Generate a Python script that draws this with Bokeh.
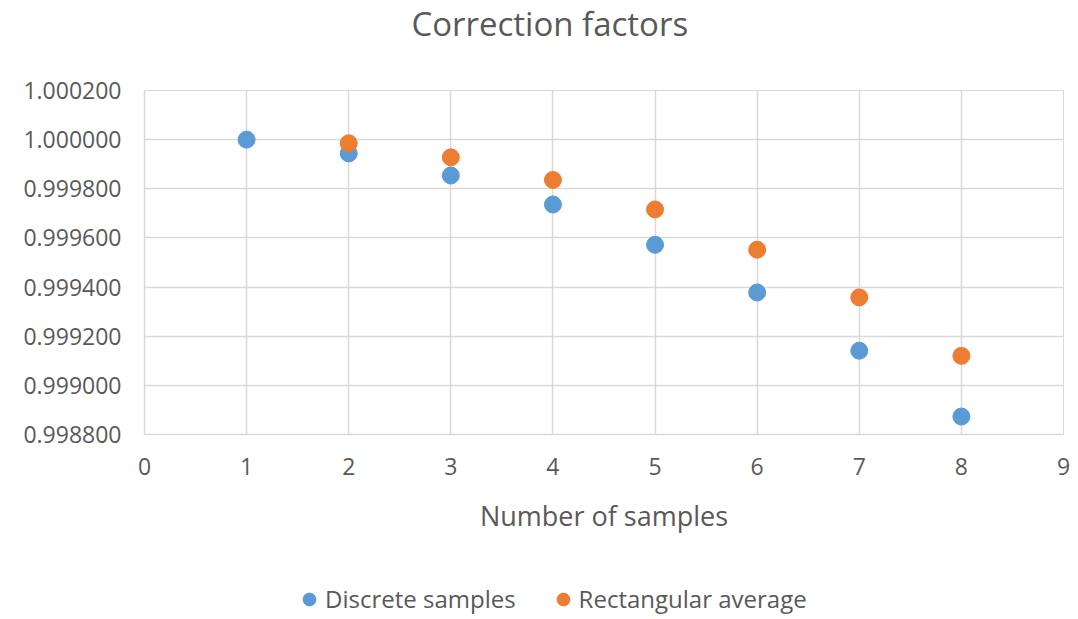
from bokeh.plotting import figure
from bokeh.layouts import column
from bokeh.models import FixedTicker, PrintfTickFormatter, Legend, LegendItem, Range1d
from bokeh.core.properties import value
from bokeh.embed import file_html
from bokeh.resources import INLINE

# Correction factor per number of samples
samples_discrete = [1, 2, 3, 4, 5, 6, 7, 8]
discrete_samples = [1.000000, 0.999944, 0.999854, 0.999736, 0.999572, 0.999378, 0.999141, 0.998873]

samples_rect = [2, 3, 4, 5, 6, 7, 8]
rectangular_average = [0.999985, 0.999928, 0.999836, 0.999716, 0.999552, 0.999358, 0.999120]

series_names = ["Discrete samples", "Rectangular average"]
series_colors = ["#5b9bd5", "#ed7d31"]

x_ticks = [0, 1, 2, 3, 4, 5, 6, 7, 8, 9]
y_ticks = [0.9988, 0.9990, 0.9992, 0.9994, 0.9996, 0.9998, 1.0000, 1.0002]

chart_title = "Correction factors"
x_title = "Number of samples"

FONT = "Open Sans"
TEXT = "#595959"
GRID = "#d9d9d9"
W = 1078


def blank(fig):
    fig.xgrid.visible = False
    fig.ygrid.visible = False
    fig.outline_line_color = None
    fig.border_fill_color = "white"
    fig.background_fill_color = "white"


# --- heading strip (its frame lines up with the chart frame in the column) ---
head = figure(width=W, height=60, output_backend="svg", toolbar_location=None,
              x_range=Range1d(0, 1), y_range=Range1d(0, 1), min_border=0,
              x_axis_location=None, y_axis_location=None)
blank(head)
head.text(x=[0.441], y=[0.61], text=[chart_title], text_align="center", text_baseline="middle",
          text_font=value(FONT), text_font_size="33px", text_color=TEXT)

# --- scatter chart ---
p = figure(width=W, height=500, output_backend="svg", toolbar_location=None,
           x_range=Range1d(0, 9), y_range=Range1d(0.9988, 1.0002),
           min_border_left=144, min_border_right=15, min_border_top=30, min_border_bottom=126)

p.outline_line_color = GRID
p.background_fill_color = "white"
p.border_fill_color = "white"

for g in (p.xgrid, p.ygrid):
    g.grid_line_color = GRID
    g.grid_line_width = 1.5
p.xgrid.ticker = FixedTicker(ticks=x_ticks)
p.ygrid.ticker = FixedTicker(ticks=y_ticks)

p.xaxis.ticker = FixedTicker(ticks=x_ticks)
p.yaxis.ticker = FixedTicker(ticks=y_ticks)
p.yaxis.formatter = PrintfTickFormatter(format="%.6f")

for ax in (p.xaxis, p.yaxis):
    ax.axis_line_color = GRID
    ax.axis_line_width = 1.5
    ax.major_tick_line_color = None
    ax.minor_tick_line_color = None
    ax.major_label_text_font = FONT
    ax.major_label_text_font_size = "23px"
    ax.major_label_text_color = TEXT

p.yaxis.major_label_standoff = 17
p.xaxis.major_label_standoff = 17

p.xaxis.axis_label = x_title
p.xaxis.axis_label_text_font = FONT
p.xaxis.axis_label_text_font_size = "27px"
p.xaxis.axis_label_text_font_style = "normal"
p.xaxis.axis_label_text_color = TEXT
p.xaxis.axis_label_standoff = 19

p.scatter(samples_discrete, discrete_samples, size=17, color=series_colors[0])
p.scatter(samples_rect, rectangular_average, size=17, color=series_colors[1])

# --- key strip: same series, view window kept off the data so only the key shows ---
key = figure(width=W, height=59, output_backend="svg", toolbar_location=None,
             x_range=Range1d(0, 9), y_range=Range1d(2, 3), min_border=0,
             x_axis_location=None, y_axis_location=None)
blank(key)
k1 = key.scatter(samples_discrete, discrete_samples, size=17, color=series_colors[0])
k2 = key.scatter(samples_rect, rectangular_average, size=17, color=series_colors[1])

legend = Legend(items=[LegendItem(label=series_names[0], renderers=[k1]),
                       LegendItem(label=series_names[1], renderers=[k2])],
                orientation="horizontal", location=(149, 4),
                label_text_font=FONT, label_text_font_size="24px", label_text_color=TEXT,
                border_line_color=None, background_fill_alpha=0,
                glyph_width=32, glyph_height=32, label_standoff=0, spacing=31,
                margin=0, padding=0)
key.add_layout(legend, "center")

layout = column(head, p, key, spacing=0)
open("out.html", "w").write(file_html(layout, INLINE))
